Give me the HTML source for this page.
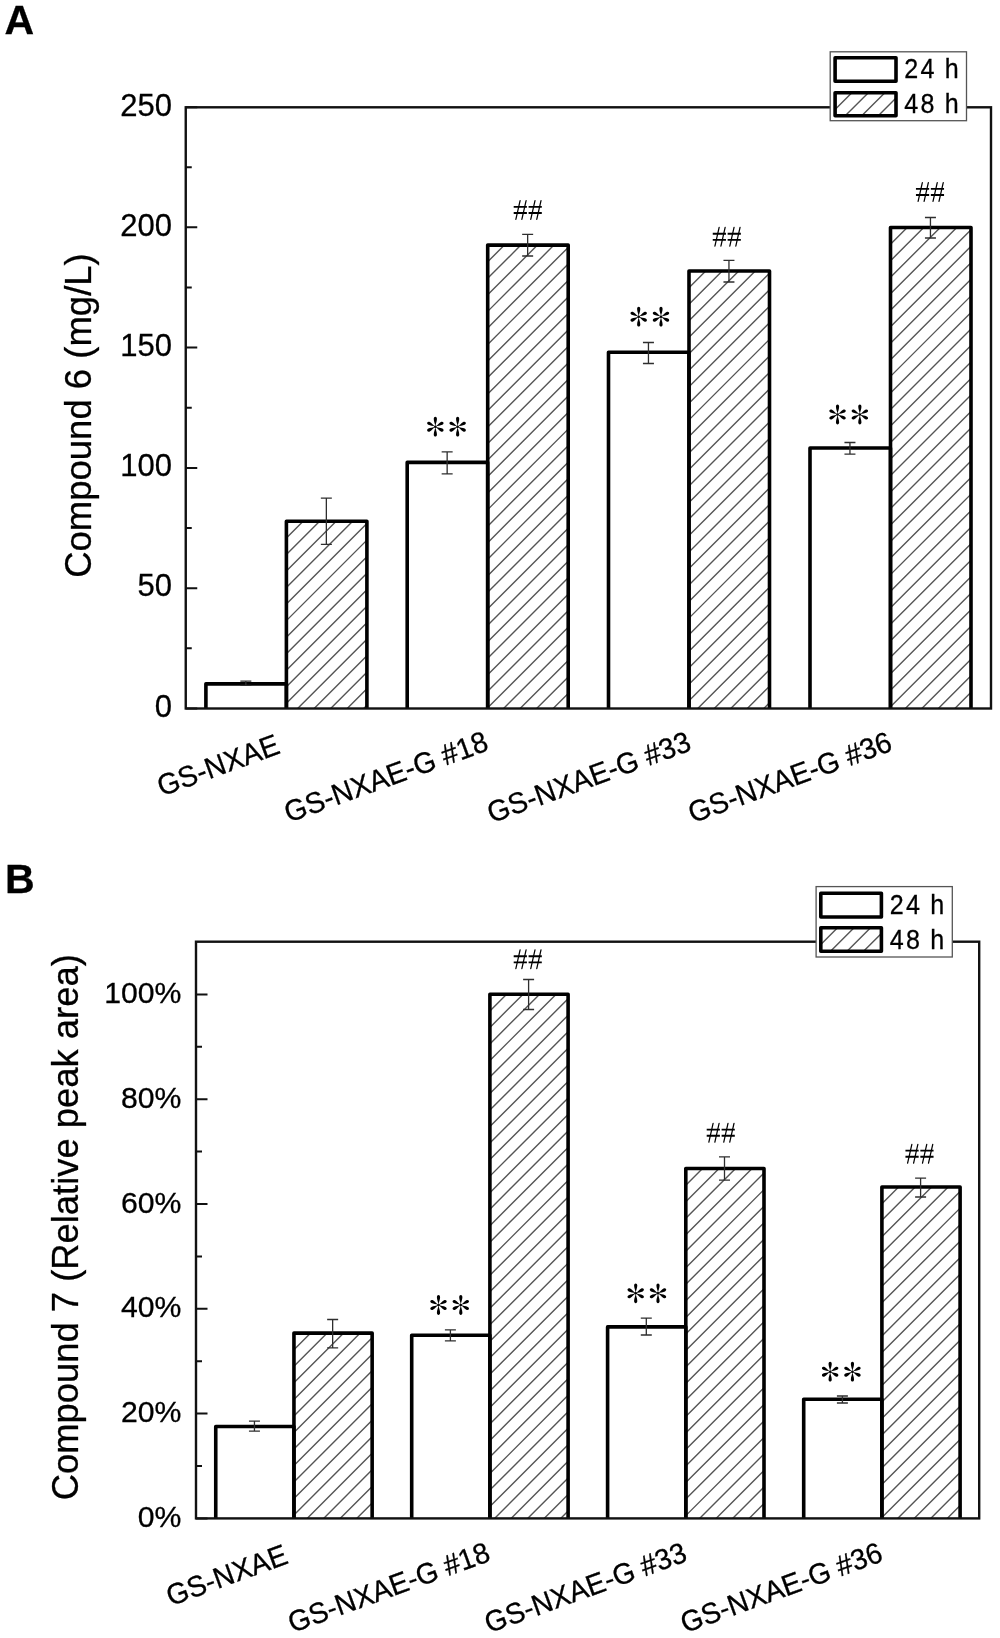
<!DOCTYPE html>
<html><head><meta charset="utf-8"><title>Figure</title>
<style>html,body{margin:0;padding:0;background:#fff;overflow:hidden}svg{display:block;filter:blur(0.45px)}text{font-family:"Liberation Sans",sans-serif;fill:#000;stroke:#000;stroke-width:.3px}</style>
</head><body>
<svg width="1000" height="1638" viewBox="0 0 1000 1638">
<rect width="1000" height="1638" fill="#fff"/>
<defs><g id="st"><path transform="rotate(0)" d="M0 0C-0.25 -2.97 -1.6 -5.15 -1.6 -7.72C-1.6 -9.01 -0.88 -9.9 0 -9.9C0.88 -9.9 1.6 -9.01 1.6 -7.72C1.6 -5.15 0.25 -2.97 0 0Z"/><path transform="rotate(62)" d="M0 0C-0.25 -2.73 -1.6 -4.73 -1.6 -7.1C-1.6 -8.28 -0.88 -9.1 0 -9.1C0.88 -9.1 1.6 -8.28 1.6 -7.1C1.6 -4.73 0.25 -2.73 0 0Z"/><path transform="rotate(118)" d="M0 0C-0.25 -2.73 -1.6 -4.73 -1.6 -7.1C-1.6 -8.28 -0.88 -9.1 0 -9.1C0.88 -9.1 1.6 -8.28 1.6 -7.1C1.6 -4.73 0.25 -2.73 0 0Z"/><path transform="rotate(180)" d="M0 0C-0.25 -2.97 -1.6 -5.15 -1.6 -7.72C-1.6 -9.01 -0.88 -9.9 0 -9.9C0.88 -9.9 1.6 -9.01 1.6 -7.72C1.6 -5.15 0.25 -2.97 0 0Z"/><path transform="rotate(242)" d="M0 0C-0.25 -2.73 -1.6 -4.73 -1.6 -7.1C-1.6 -8.28 -0.88 -9.1 0 -9.1C0.88 -9.1 1.6 -8.28 1.6 -7.1C1.6 -4.73 0.25 -2.73 0 0Z"/><path transform="rotate(298)" d="M0 0C-0.25 -2.73 -1.6 -4.73 -1.6 -7.1C-1.6 -8.28 -0.88 -9.1 0 -9.1C0.88 -9.1 1.6 -8.28 1.6 -7.1C1.6 -4.73 0.25 -2.73 0 0Z"/><circle r="1.3"/></g><g id="hs" fill="none" stroke="#000"><path d="M-6.6 -3.1H6.6M-6.6 3.05H6.6" stroke-width="1.9"/><path d="M-4.45 9.4L-0.2 -9.4M1.55 9.4L5.8 -9.4" stroke-width="1.25" stroke-linecap="round"/></g></defs>
<path d="M286.4 538.02L303.12 521.3M286.4 554.54L319.64 521.3M286.4 571.06L336.16 521.3M286.4 587.58L352.68 521.3M286.4 604.1L366.9 523.6M286.4 620.62L366.9 540.12M286.4 637.14L366.9 556.64M286.4 653.66L366.9 573.16M286.4 670.18L366.9 589.68M286.4 686.7L366.9 606.2M286.4 703.22L366.9 622.72M297.64 708.5L366.9 639.24M314.16 708.5L366.9 655.76M330.68 708.5L366.9 672.28M347.2 708.5L366.9 688.8M363.72 708.5L366.9 705.32" stroke="#555" stroke-width="1.4" fill="none"/><path d="M286.4 708.5V521.3H366.9V708.5" fill="none" stroke="#000" stroke-width="3.6" stroke-linejoin="round"/>
<path d="M205.9 708.5V683.85H286.4V708.5" fill="none" stroke="#000" stroke-width="3.6" stroke-linejoin="round"/>
<path d="M245.85 681.2V685.4M240.35 681.2H251.35M240.35 685.4H251.35" fill="none" stroke="#2e2e2e" stroke-width="1.3"/>
<path d="M326.35 498.2V544.4M320.85 498.2H331.85M320.85 544.4H331.85" fill="none" stroke="#2e2e2e" stroke-width="1.3"/>
<path d="M487.7 261.82L504.42 245.1M487.7 278.34L520.94 245.1M487.7 294.86L537.46 245.1M487.7 311.38L553.98 245.1M487.7 327.9L568.2 247.4M487.7 344.42L568.2 263.92M487.7 360.94L568.2 280.44M487.7 377.46L568.2 296.96M487.7 393.98L568.2 313.48M487.7 410.5L568.2 330M487.7 427.02L568.2 346.52M487.7 443.54L568.2 363.04M487.7 460.06L568.2 379.56M487.7 476.58L568.2 396.08M487.7 493.1L568.2 412.6M487.7 509.62L568.2 429.12M487.7 526.14L568.2 445.64M487.7 542.66L568.2 462.16M487.7 559.18L568.2 478.68M487.7 575.7L568.2 495.2M487.7 592.22L568.2 511.72M487.7 608.74L568.2 528.24M487.7 625.26L568.2 544.76M487.7 641.78L568.2 561.28M487.7 658.3L568.2 577.8M487.7 674.82L568.2 594.32M487.7 691.34L568.2 610.84M487.7 707.86L568.2 627.36M503.58 708.5L568.2 643.88M520.1 708.5L568.2 660.4M536.62 708.5L568.2 676.92M553.14 708.5L568.2 693.44" stroke="#555" stroke-width="1.4" fill="none"/><path d="M487.7 708.5V245.1H568.2V708.5" fill="none" stroke="#000" stroke-width="3.6" stroke-linejoin="round"/>
<path d="M407.2 708.5V462.4H487.7V708.5" fill="none" stroke="#000" stroke-width="3.6" stroke-linejoin="round"/>
<path d="M447.15 451.8V473.8M441.65 451.8H452.65M441.65 473.8H452.65" fill="none" stroke="#2e2e2e" stroke-width="1.3"/>
<path d="M527.65 234.3V256M522.15 234.3H533.15M522.15 256H533.15" fill="none" stroke="#2e2e2e" stroke-width="1.3"/>
<path d="M689 287.72L705.72 271M689 304.24L722.24 271M689 320.76L738.76 271M689 337.28L755.28 271M689 353.8L769.5 273.3M689 370.32L769.5 289.82M689 386.84L769.5 306.34M689 403.36L769.5 322.86M689 419.88L769.5 339.38M689 436.4L769.5 355.9M689 452.92L769.5 372.42M689 469.44L769.5 388.94M689 485.96L769.5 405.46M689 502.48L769.5 421.98M689 519L769.5 438.5M689 535.52L769.5 455.02M689 552.04L769.5 471.54M689 568.56L769.5 488.06M689 585.08L769.5 504.58M689 601.6L769.5 521.1M689 618.12L769.5 537.62M689 634.64L769.5 554.14M689 651.16L769.5 570.66M689 667.68L769.5 587.18M689 684.2L769.5 603.7M689 700.72L769.5 620.22M697.74 708.5L769.5 636.74M714.26 708.5L769.5 653.26M730.78 708.5L769.5 669.78M747.3 708.5L769.5 686.3M763.82 708.5L769.5 702.82" stroke="#555" stroke-width="1.4" fill="none"/><path d="M689 708.5V271H769.5V708.5" fill="none" stroke="#000" stroke-width="3.6" stroke-linejoin="round"/>
<path d="M608.5 708.5V352.2H689V708.5" fill="none" stroke="#000" stroke-width="3.6" stroke-linejoin="round"/>
<path d="M648.45 342.5V363.5M642.95 342.5H653.95M642.95 363.5H653.95" fill="none" stroke="#2e2e2e" stroke-width="1.3"/>
<path d="M728.95 260.4V282M723.45 260.4H734.45M723.45 282H734.45" fill="none" stroke="#2e2e2e" stroke-width="1.3"/>
<path d="M890.5 244.22L907.22 227.5M890.5 260.74L923.74 227.5M890.5 277.26L940.26 227.5M890.5 293.78L956.78 227.5M890.5 310.3L971 229.8M890.5 326.82L971 246.32M890.5 343.34L971 262.84M890.5 359.86L971 279.36M890.5 376.38L971 295.88M890.5 392.9L971 312.4M890.5 409.42L971 328.92M890.5 425.94L971 345.44M890.5 442.46L971 361.96M890.5 458.98L971 378.48M890.5 475.5L971 395M890.5 492.02L971 411.52M890.5 508.54L971 428.04M890.5 525.06L971 444.56M890.5 541.58L971 461.08M890.5 558.1L971 477.6M890.5 574.62L971 494.12M890.5 591.14L971 510.64M890.5 607.66L971 527.16M890.5 624.18L971 543.68M890.5 640.7L971 560.2M890.5 657.22L971 576.72M890.5 673.74L971 593.24M890.5 690.26L971 609.76M890.5 706.78L971 626.28M905.3 708.5L971 642.8M921.82 708.5L971 659.32M938.34 708.5L971 675.84M954.86 708.5L971 692.36" stroke="#555" stroke-width="1.4" fill="none"/><path d="M890.5 708.5V227.5H971V708.5" fill="none" stroke="#000" stroke-width="3.6" stroke-linejoin="round"/>
<path d="M810 708.5V448H890.5V708.5" fill="none" stroke="#000" stroke-width="3.6" stroke-linejoin="round"/>
<path d="M849.95 442.5V454.2M844.45 442.5H855.45M844.45 454.2H855.45" fill="none" stroke="#2e2e2e" stroke-width="1.3"/>
<path d="M930.45 217.5V238M924.95 217.5H935.95M924.95 238H935.95" fill="none" stroke="#2e2e2e" stroke-width="1.3"/>
<rect x="185.75" y="107.3" width="805.25" height="601.2" fill="none" stroke="#111" stroke-width="2.4"/>
<path d="M185.75 708.5h11.5M185.75 588.2h11.5M185.75 467.9h11.5M185.75 347.6h11.5M185.75 227.3h11.5M185.75 107.3h11.5M185.75 648.35h6M185.75 528.05h6M185.75 407.75h6M185.75 287.45h6M185.75 167.15h6" stroke="#111" stroke-width="2" fill="none"/>
<text x="172" y="716.7" text-anchor="end" font-size="31">0</text>
<text x="172" y="596.4" text-anchor="end" font-size="31">50</text>
<text x="172" y="476.1" text-anchor="end" font-size="31">100</text>
<text x="172" y="355.8" text-anchor="end" font-size="31">150</text>
<text x="172" y="235.5" text-anchor="end" font-size="31">200</text>
<text x="172" y="115.5" text-anchor="end" font-size="31">250</text>
<text transform="translate(90.85 577.85) rotate(-90)" font-size="36.5">Compound 6 (mg/L)</text>
<text transform="translate(281.5 752.8) rotate(-20) scale(1 1.04)" text-anchor="end" font-size="28.35">GS-NXAE</text>
<text transform="translate(490 749.6) rotate(-20) scale(1 1.04)" text-anchor="end" font-size="28.35">GS-NXAE-G #18</text>
<text transform="translate(692.9 749.9) rotate(-20) scale(1 1.04)" text-anchor="end" font-size="28.35">GS-NXAE-G #33</text>
<text transform="translate(893.9 750) rotate(-20) scale(1 1.04)" text-anchor="end" font-size="28.35">GS-NXAE-G #36</text>
<use href="#st" x="435.35" y="426.7"/>
<use href="#st" x="457.65" y="426.7"/>
<use href="#st" x="638.7" y="316.7"/>
<use href="#st" x="661" y="316.7"/>
<use href="#st" x="837.55" y="414.5"/>
<use href="#st" x="859.85" y="414.5"/>
<use href="#hs" x="520.3" y="210"/>
<use href="#hs" x="535.2" y="210"/>
<use href="#hs" x="719.35" y="236.8"/>
<use href="#hs" x="734.25" y="236.8"/>
<use href="#hs" x="922.55" y="192"/>
<use href="#hs" x="937.45" y="192"/>
<rect x="830.2" y="51.8" width="136.3" height="68.9" fill="#fff" stroke="#555" stroke-width="1.3"/>
<rect x="835.1" y="57.75" width="60.9" height="23.55" fill="none" stroke="#000" stroke-width="3.6" stroke-linejoin="round"/>
<path d="M835.1 109.42L851.82 92.7M845.24 115.8L868.34 92.7M861.76 115.8L884.86 92.7M878.28 115.8L896 98.08M894.8 115.8L896 114.6" stroke="#555" stroke-width="1.4" fill="none"/>
<rect x="835.1" y="92.7" width="60.9" height="23.1" fill="none" stroke="#000" stroke-width="3.6" stroke-linejoin="round"/>
<text transform="translate(904.2 78.25) scale(0.93 1)" font-size="27" letter-spacing="2.45" word-spacing="-1.4">24 h</text>
<text transform="translate(904.2 113) scale(0.93 1)" font-size="27" letter-spacing="2.45" word-spacing="-1.4">48 h</text>
<text x="4.4" y="33.9" font-size="41" font-weight="bold">A</text>
<path d="M293.95 1349.82L310.67 1333.1M293.95 1366.34L327.19 1333.1M293.95 1382.86L343.71 1333.1M293.95 1399.38L360.23 1333.1M293.95 1415.9L372.15 1337.7M293.95 1432.42L372.15 1354.22M293.95 1448.94L372.15 1370.74M293.95 1465.46L372.15 1387.26M293.95 1481.98L372.15 1403.78M293.95 1498.5L372.15 1420.3M293.95 1515.02L372.15 1436.82M307.09 1518.4L372.15 1453.34M323.61 1518.4L372.15 1469.86M340.13 1518.4L372.15 1486.38M356.65 1518.4L372.15 1502.9" stroke="#555" stroke-width="1.4" fill="none"/><path d="M293.95 1518.4V1333.1H372.15V1518.4" fill="none" stroke="#000" stroke-width="3.6" stroke-linejoin="round"/>
<path d="M215.75 1518.4V1426.5H293.95V1518.4" fill="none" stroke="#000" stroke-width="3.6" stroke-linejoin="round"/>
<path d="M254.45 1421.2V1431.2M248.95 1421.2H259.95M248.95 1431.2H259.95" fill="none" stroke="#2e2e2e" stroke-width="1.3"/>
<path d="M332.65 1319.5V1347.8M327.15 1319.5H338.15M327.15 1347.8H338.15" fill="none" stroke="#2e2e2e" stroke-width="1.3"/>
<path d="M489.9 1010.92L506.62 994.2M489.9 1027.44L523.14 994.2M489.9 1043.96L539.66 994.2M489.9 1060.48L556.18 994.2M489.9 1077L568.1 998.8M489.9 1093.52L568.1 1015.32M489.9 1110.04L568.1 1031.84M489.9 1126.56L568.1 1048.36M489.9 1143.08L568.1 1064.88M489.9 1159.6L568.1 1081.4M489.9 1176.12L568.1 1097.92M489.9 1192.64L568.1 1114.44M489.9 1209.16L568.1 1130.96M489.9 1225.68L568.1 1147.48M489.9 1242.2L568.1 1164M489.9 1258.72L568.1 1180.52M489.9 1275.24L568.1 1197.04M489.9 1291.76L568.1 1213.56M489.9 1308.28L568.1 1230.08M489.9 1324.8L568.1 1246.6M489.9 1341.32L568.1 1263.12M489.9 1357.84L568.1 1279.64M489.9 1374.36L568.1 1296.16M489.9 1390.88L568.1 1312.68M489.9 1407.4L568.1 1329.2M489.9 1423.92L568.1 1345.72M489.9 1440.44L568.1 1362.24M489.9 1456.96L568.1 1378.76M489.9 1473.48L568.1 1395.28M489.9 1490L568.1 1411.8M489.9 1506.52L568.1 1428.32M494.54 1518.4L568.1 1444.84M511.06 1518.4L568.1 1461.36M527.58 1518.4L568.1 1477.88M544.1 1518.4L568.1 1494.4M560.62 1518.4L568.1 1510.92" stroke="#555" stroke-width="1.4" fill="none"/><path d="M489.9 1518.4V994.2H568.1V1518.4" fill="none" stroke="#000" stroke-width="3.6" stroke-linejoin="round"/>
<path d="M411.7 1518.4V1335.2H489.9V1518.4" fill="none" stroke="#000" stroke-width="3.6" stroke-linejoin="round"/>
<path d="M450.4 1329.8V1340.8M444.9 1329.8H455.9M444.9 1340.8H455.9" fill="none" stroke="#2e2e2e" stroke-width="1.3"/>
<path d="M528.6 979.5V1009.5M523.1 979.5H534.1M523.1 1009.5H534.1" fill="none" stroke="#2e2e2e" stroke-width="1.3"/>
<path d="M685.8 1185.22L702.52 1168.5M685.8 1201.74L719.04 1168.5M685.8 1218.26L735.56 1168.5M685.8 1234.78L752.08 1168.5M685.8 1251.3L764 1173.1M685.8 1267.82L764 1189.62M685.8 1284.34L764 1206.14M685.8 1300.86L764 1222.66M685.8 1317.38L764 1239.18M685.8 1333.9L764 1255.7M685.8 1350.42L764 1272.22M685.8 1366.94L764 1288.74M685.8 1383.46L764 1305.26M685.8 1399.98L764 1321.78M685.8 1416.5L764 1338.3M685.8 1433.02L764 1354.82M685.8 1449.54L764 1371.34M685.8 1466.06L764 1387.86M685.8 1482.58L764 1404.38M685.8 1499.1L764 1420.9M685.8 1515.62L764 1437.42M699.54 1518.4L764 1453.94M716.06 1518.4L764 1470.46M732.58 1518.4L764 1486.98M749.1 1518.4L764 1503.5" stroke="#555" stroke-width="1.4" fill="none"/><path d="M685.8 1518.4V1168.5H764V1518.4" fill="none" stroke="#000" stroke-width="3.6" stroke-linejoin="round"/>
<path d="M607.6 1518.4V1326.9H685.8V1518.4" fill="none" stroke="#000" stroke-width="3.6" stroke-linejoin="round"/>
<path d="M646.3 1318.2V1335M640.8 1318.2H651.8M640.8 1335H651.8" fill="none" stroke="#2e2e2e" stroke-width="1.3"/>
<path d="M724.5 1156.8V1180.2M719 1156.8H730M719 1180.2H730" fill="none" stroke="#2e2e2e" stroke-width="1.3"/>
<path d="M881.9 1203.72L898.62 1187M881.9 1220.24L915.14 1187M881.9 1236.76L931.66 1187M881.9 1253.28L948.18 1187M881.9 1269.8L960.1 1191.6M881.9 1286.32L960.1 1208.12M881.9 1302.84L960.1 1224.64M881.9 1319.36L960.1 1241.16M881.9 1335.88L960.1 1257.68M881.9 1352.4L960.1 1274.2M881.9 1368.92L960.1 1290.72M881.9 1385.44L960.1 1307.24M881.9 1401.96L960.1 1323.76M881.9 1418.48L960.1 1340.28M881.9 1435L960.1 1356.8M881.9 1451.52L960.1 1373.32M881.9 1468.04L960.1 1389.84M881.9 1484.56L960.1 1406.36M881.9 1501.08L960.1 1422.88M881.9 1517.6L960.1 1439.4M897.62 1518.4L960.1 1455.92M914.14 1518.4L960.1 1472.44M930.66 1518.4L960.1 1488.96M947.18 1518.4L960.1 1505.48" stroke="#555" stroke-width="1.4" fill="none"/><path d="M881.9 1518.4V1187H960.1V1518.4" fill="none" stroke="#000" stroke-width="3.6" stroke-linejoin="round"/>
<path d="M803.7 1518.4V1399.2H881.9V1518.4" fill="none" stroke="#000" stroke-width="3.6" stroke-linejoin="round"/>
<path d="M842.4 1396V1403M836.9 1396H847.9M836.9 1403H847.9" fill="none" stroke="#2e2e2e" stroke-width="1.3"/>
<path d="M920.6 1178.2V1197M915.1 1178.2H926.1M915.1 1197H926.1" fill="none" stroke="#2e2e2e" stroke-width="1.3"/>
<rect x="196" y="941.7" width="783.2" height="576.7" fill="none" stroke="#111" stroke-width="2.4"/>
<path d="M196 1518.4h11.5M196 1413.6h11.5M196 1308.8h11.5M196 1204h11.5M196 1099.2h11.5M196 994.4h11.5M196 1466h6M196 1361.2h6M196 1256.4h6M196 1151.6h6M196 1046.8h6" stroke="#111" stroke-width="2" fill="none"/>
<text x="181.4" y="1526.9" text-anchor="end" font-size="30.2">0%</text>
<text x="181.4" y="1422.1" text-anchor="end" font-size="30.2">20%</text>
<text x="181.4" y="1317.3" text-anchor="end" font-size="30.2">40%</text>
<text x="181.4" y="1212.5" text-anchor="end" font-size="30.2">60%</text>
<text x="181.4" y="1107.7" text-anchor="end" font-size="30.2">80%</text>
<text x="181.4" y="1002.9" text-anchor="end" font-size="30.2">100%</text>
<text transform="translate(77.65 1500.35) rotate(-90)" font-size="36.4">Compound 7 (Relative peak area)</text>
<text transform="translate(289.5 1562.9) rotate(-20) scale(1 1.04)" text-anchor="end" font-size="28.1">GS-NXAE</text>
<text transform="translate(491.9 1560.3) rotate(-20) scale(1 1.04)" text-anchor="end" font-size="28.1">GS-NXAE-G #18</text>
<text transform="translate(688.6 1560.6) rotate(-20) scale(1 1.04)" text-anchor="end" font-size="28.1">GS-NXAE-G #33</text>
<text transform="translate(884.4 1560.6) rotate(-20) scale(1 1.04)" text-anchor="end" font-size="28.1">GS-NXAE-G #36</text>
<use href="#st" x="438.5" y="1305"/>
<use href="#st" x="460.8" y="1305"/>
<use href="#st" x="635.7" y="1293.3"/>
<use href="#st" x="658" y="1293.3"/>
<use href="#st" x="830.15" y="1371.7"/>
<use href="#st" x="852.45" y="1371.7"/>
<use href="#hs" x="520.3" y="959.3"/>
<use href="#hs" x="535.2" y="959.3"/>
<use href="#hs" x="713.3" y="1132.7"/>
<use href="#hs" x="728.2" y="1132.7"/>
<use href="#hs" x="912.05" y="1153.7"/>
<use href="#hs" x="926.95" y="1153.7"/>
<rect x="816.1" y="886.6" width="136.2" height="70.4" fill="#fff" stroke="#555" stroke-width="1.3"/>
<rect x="820.8" y="893.3" width="60.6" height="23.7" fill="none" stroke="#000" stroke-width="3.6" stroke-linejoin="round"/>
<path d="M820.8 944.42L837.52 927.7M830.54 951.2L854.04 927.7M847.06 951.2L870.56 927.7M863.58 951.2L881.4 933.38M880.1 951.2L881.4 949.9" stroke="#555" stroke-width="1.4" fill="none"/>
<rect x="820.8" y="927.7" width="60.6" height="23.5" fill="none" stroke="#000" stroke-width="3.6" stroke-linejoin="round"/>
<text transform="translate(889.8 913.6) scale(0.93 1)" font-size="27" letter-spacing="2.45" word-spacing="-1.4">24 h</text>
<text transform="translate(889.8 948.8) scale(0.93 1)" font-size="27" letter-spacing="2.45" word-spacing="-1.4">48 h</text>
<text x="5.06" y="892.9" font-size="41" font-weight="bold">B</text>
</svg></body></html>
